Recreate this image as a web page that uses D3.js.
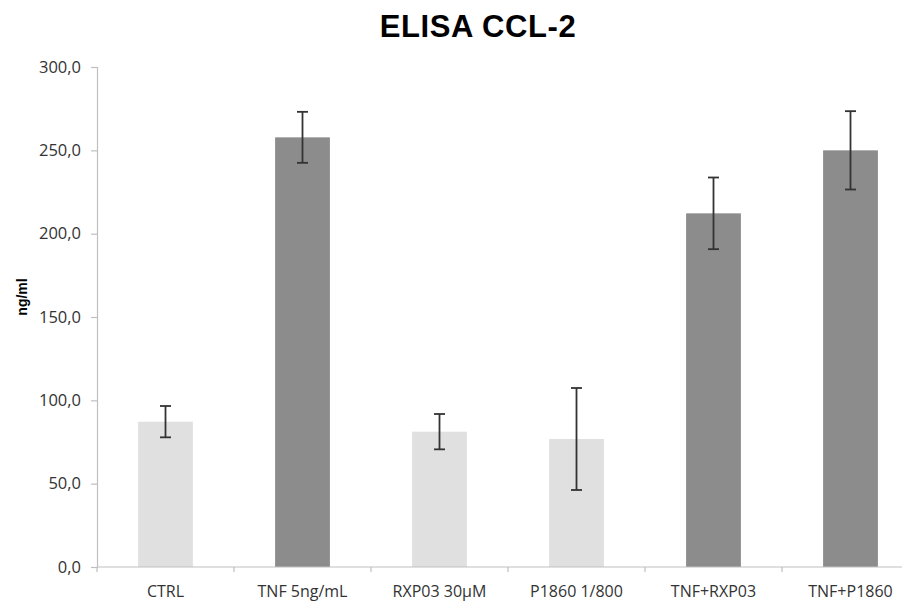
<!DOCTYPE html>
<html>
<head>
<meta charset="utf-8">
<script src="https://cdn.jsdelivr.net/npm/d3@7/dist/d3.min.js"></script>
<style>
  html, body { margin: 0; padding: 0; background: #fff; }
  svg { display: block; }
</style>
</head>
<body>
<svg id="chart" width="902" height="601"></svg>
<script>
// ELISA CCL-2 concentrations (ng/ml), mean ± error per condition
const categories = ["CTRL", "TNF 5ng/mL", "RXP03 30μM", "P1860 1/800", "TNF+RXP03", "TNF+P1860"];
const means  = [87.2, 257.8, 81.2, 76.8, 212.2, 250.0];
const errors = [9.4, 15.3, 10.6, 30.6, 21.5, 23.5];
const tnfTreated = [false, true, false, false, true, true];
const yTicks = [0, 50, 100, 150, 200, 250, 300];

const svg = d3.select("#chart");
const plotLeft = 97, plotRight = 919, plotTop = 67, plotBottom = 567;

const x = d3.scaleBand()
  .domain(categories)
  .range([plotLeft, plotRight])
  .paddingInner(0.6)
  .paddingOuter(0.3);

const y = d3.scaleLinear().domain([0, 300]).range([plotBottom, plotTop]);

const fmt = v => d3.format(".1f")(v).replace(".", ",");

// Title
svg.append("text")
  .attr("x", 478).attr("y", 37)
  .attr("text-anchor", "middle")
  .attr("font-family", "Liberation Sans, Arial, sans-serif")
  .attr("font-weight", "bold")
  .attr("font-size", 31)
  .attr("letter-spacing", 0.6)
  .attr("fill", "#000")
  .text("ELISA CCL-2");

// Y axis
const yAxis = svg.append("g")
  .attr("transform", `translate(${plotLeft},0)`)
  .call(d3.axisLeft(y).tickValues(yTicks).tickFormat(fmt).tickSize(6).tickPadding(10));
yAxis.select(".domain").attr("stroke", "#bfbfbf").attr("stroke-width", 1.2);
yAxis.selectAll(".tick line").attr("stroke", "#bfbfbf").attr("stroke-width", 1.2);
yAxis.selectAll(".tick text")
  .attr("font-family", "Open Sans, sans-serif")
  .attr("font-size", 16.5)
  .attr("fill", "#333");

// Y axis title
svg.append("text")
  .attr("transform", "translate(27,297) rotate(-90)")
  .attr("text-anchor", "middle")
  .attr("font-family", "Liberation Sans, Arial, sans-serif")
  .attr("font-weight", "bold")
  .attr("font-size", 14)
  .attr("fill", "#000")
  .text("ng/ml");

// Bars
svg.append("g").selectAll("rect")
  .data(categories)
  .join("rect")
  .attr("x", d => x(d))
  .attr("width", x.bandwidth())
  .attr("y", (d, i) => y(means[i]))
  .attr("height", (d, i) => y(0) - y(means[i]))
  .attr("fill", (d, i) => tnfTreated[i] ? "#8c8c8c" : "#e0e0e0");

// X axis: baseline with ticks on category boundaries
const xg = svg.append("g");
xg.append("line")
  .attr("x1", plotLeft).attr("x2", plotRight)
  .attr("y1", y(0)).attr("y2", y(0))
  .attr("stroke", "#bfbfbf").attr("stroke-width", 1.2);
const boundaries = categories.map(c => x(c) - x.step() * x.paddingInner() / 2);
xg.selectAll("line.tick")
  .data(boundaries)
  .join("line")
  .attr("class", "tick")
  .attr("x1", d => d).attr("x2", d => d)
  .attr("y1", y(0)).attr("y2", y(0) + 5)
  .attr("stroke", "#bfbfbf").attr("stroke-width", 1.2);
xg.selectAll("text")
  .data(categories)
  .join("text")
  .attr("x", d => x(d) + x.bandwidth() / 2)
  .attr("y", 597)
  .attr("text-anchor", "middle")
  .attr("font-family", "Open Sans, sans-serif")
  .attr("font-size", 16)
  .attr("fill", "#333")
  .text(d => d);

// Error bars
const eg = svg.append("g").attr("stroke", "#333").attr("stroke-width", 1.8);
categories.forEach((c, i) => {
  const cx = x(c) + x.bandwidth() / 2;
  const y1 = y(means[i] + errors[i]);
  const y2 = y(means[i] - errors[i]);
  eg.append("line").attr("x1", cx).attr("x2", cx).attr("y1", y1).attr("y2", y2);
  eg.append("line").attr("x1", cx - 5.5).attr("x2", cx + 5.5).attr("y1", y1).attr("y2", y1);
  eg.append("line").attr("x1", cx - 5.5).attr("x2", cx + 5.5).attr("y1", y2).attr("y2", y2);
});
</script>
</body>
</html>
